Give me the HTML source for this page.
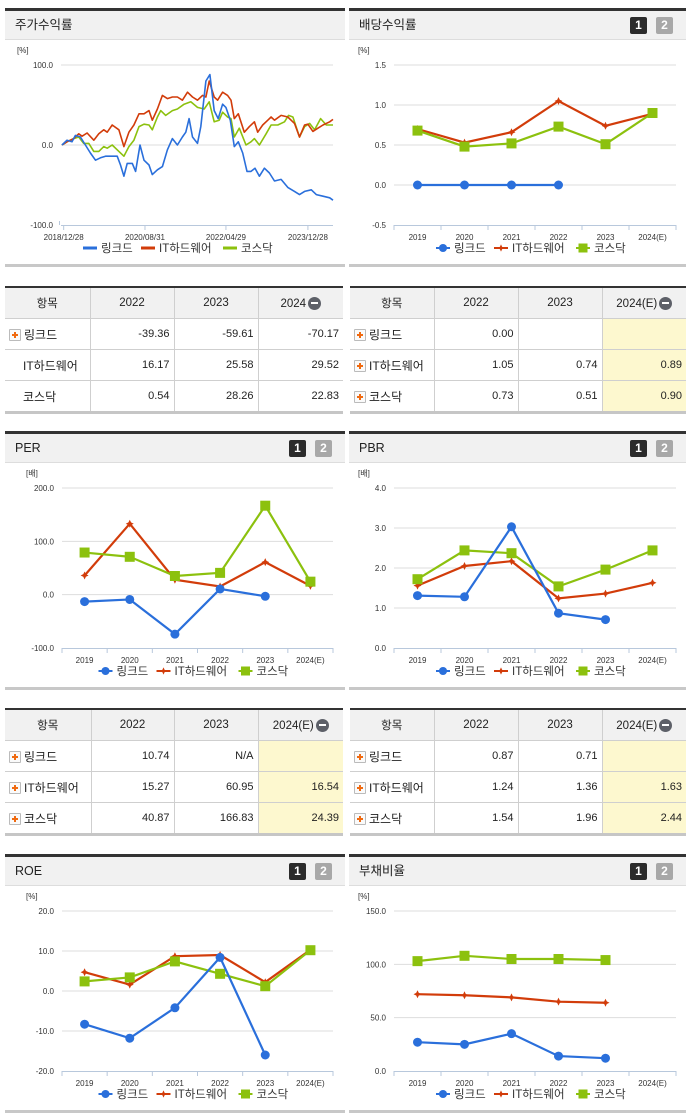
<!DOCTYPE html>
<html><head><meta charset="utf-8">
<style>
body{margin:0;width:691px;height:1115px;background:#fff;position:relative;overflow:hidden;font-family:"Liberation Sans","Noto Sans CJK KR",sans-serif;}
.abs{position:absolute;}
.hdr{position:absolute;height:28px;background:#f1f1f1;border-top:3px solid #333;border-bottom:1px solid #ddd;font-size:12.5px;color:#222;line-height:28px;padding-left:10px;box-sizing:content-box;}
.btn{position:absolute;top:6px;width:17px;height:17px;font:bold 12px/17px "Liberation Sans",sans-serif;color:#fff;text-align:center;border-radius:2px;}
.b1{background:#2b2b2b;right:39px}.b2{background:#a8a8a8;right:13px}
.foot{position:absolute;height:3px;background:#c8c8c8;}
table{position:absolute;border-collapse:collapse;font-size:11px;color:#222;border-top:2px solid #333;border-bottom:3px solid #c6c6c6;table-layout:fixed;}
td,th{border:1px solid #cfcfcf;height:30px;padding:0 4px;}
td:first-child,th:first-child{border-left:none}
td:last-child,th:last-child{border-right:none}
th{background:#f1f1f1;font-weight:normal;text-align:center;font-size:11.5px;}
td{text-align:right;}
td.n{text-align:left;padding-left:4px;font-size:12px;}
.y{background:#fdf8cf;}
.pl{display:inline-block;width:10px;height:10px;border:1px solid #bbb;background:#fafafa;vertical-align:-2px;margin-right:3px;position:relative;border-radius:1px;}
.pl:before{content:"";position:absolute;left:2px;top:4.5px;width:6px;height:2px;background:#f06a10;}
.pl:after{content:"";position:absolute;left:4px;top:2.5px;width:2px;height:6px;background:#f06a10;}
.mi{display:inline-block;width:13px;height:13px;border-radius:7px;background:#5d6068;vertical-align:-3px;margin-left:2px;position:relative;}
.mi:after{content:"";position:absolute;left:3px;top:5.5px;width:7px;height:2px;background:#fff;}
svg text{font-family:"Liberation Sans","Noto Sans CJK KR",sans-serif;}
</style></head><body>

<div class="hdr" style="left:5px;top:8px;width:330px;">주가수익률</div>
<div class="hdr" style="left:349px;top:8px;width:327px;">배당수익률<div class="btn b1">1</div><div class="btn b2">2</div></div>
<div class="hdr" style="left:5px;top:431px;width:330px;">PER<div class="btn b1">1</div><div class="btn b2">2</div></div>
<div class="hdr" style="left:349px;top:431px;width:327px;">PBR<div class="btn b1">1</div><div class="btn b2">2</div></div>
<div class="hdr" style="left:5px;top:854px;width:330px;">ROE<div class="btn b1">1</div><div class="btn b2">2</div></div>
<div class="hdr" style="left:349px;top:854px;width:327px;">부채비율<div class="btn b1">1</div><div class="btn b2">2</div></div>

<div class="foot" style="left:5px;top:264px;width:340px"></div>
<div class="foot" style="left:349px;top:264px;width:337px"></div>
<div class="foot" style="left:5px;top:687px;width:340px"></div>
<div class="foot" style="left:349px;top:687px;width:337px"></div>
<div class="foot" style="left:5px;top:1110px;width:340px"></div>
<div class="foot" style="left:349px;top:1110px;width:337px"></div>

<svg id="chart" class="abs" style="left:0;top:0" width="691" height="1115"></svg>

<table style="left:5px;top:286px;width:338px">
<colgroup><col style="width:85px"><col style="width:84px"><col style="width:84px"><col style="width:85px"></colgroup>
<tr><th>항목</th><th>2022</th><th>2023</th><th>2024<span class="mi"></span></th></tr>
<tr><td class="n"><span class="pl"></span>링크드</td><td>-39.36</td><td>-59.61</td><td>-70.17</td></tr>
<tr><td class="n" style="padding-left:18px">IT하드웨어</td><td>16.17</td><td>25.58</td><td>29.52</td></tr>
<tr><td class="n" style="padding-left:18px">코스닥</td><td>0.54</td><td>28.26</td><td>22.83</td></tr>
</table>
<table style="left:350px;top:286px;width:336px">
<colgroup><col style="width:84px"><col style="width:84px"><col style="width:84px"><col style="width:84px"></colgroup>
<tr><th>항목</th><th>2022</th><th>2023</th><th>2024(E)<span class="mi"></span></th></tr>
<tr><td class="n"><span class="pl"></span>링크드</td><td>0.00</td><td></td><td class="y"></td></tr>
<tr><td class="n"><span class="pl"></span>IT하드웨어</td><td>1.05</td><td>0.74</td><td class="y">0.89</td></tr>
<tr><td class="n"><span class="pl"></span>코스닥</td><td>0.73</td><td>0.51</td><td class="y">0.90</td></tr>
</table>
<table style="left:5px;top:708px;width:338px">
<colgroup><col style="width:86px"><col style="width:83px"><col style="width:84px"><col style="width:85px"></colgroup>
<tr><th>항목</th><th>2022</th><th>2023</th><th>2024(E)<span class="mi"></span></th></tr>
<tr><td class="n"><span class="pl"></span>링크드</td><td>10.74</td><td>N/A</td><td class="y"></td></tr>
<tr><td class="n"><span class="pl"></span>IT하드웨어</td><td>15.27</td><td>60.95</td><td class="y">16.54</td></tr>
<tr><td class="n"><span class="pl"></span>코스닥</td><td>40.87</td><td>166.83</td><td class="y">24.39</td></tr>
</table>
<table style="left:350px;top:708px;width:336px">
<colgroup><col style="width:84px"><col style="width:84px"><col style="width:84px"><col style="width:84px"></colgroup>
<tr><th>항목</th><th>2022</th><th>2023</th><th>2024(E)<span class="mi"></span></th></tr>
<tr><td class="n"><span class="pl"></span>링크드</td><td>0.87</td><td>0.71</td><td class="y"></td></tr>
<tr><td class="n"><span class="pl"></span>IT하드웨어</td><td>1.24</td><td>1.36</td><td class="y">1.63</td></tr>
<tr><td class="n"><span class="pl"></span>코스닥</td><td>1.54</td><td>1.96</td><td class="y">2.44</td></tr>
</table>

<script>
const retBlueT=[0,15,30,40,55,70,85,100,115,130,155,165,175,185,195,210,220,233,245,260,270,285,300,315,330,345,360,370,380,390,405,415,430,442,455,467,480,490,503,515,527,540,553,565,577,590,605,620,635,655,675,695,710,725,745,760,780,800,810];
const retBlue=[0,6,4,12,10,0,-10,-19,-16,-14,-14,-14,-25,-39,-23,-23,-33,0,-19,-25,-37,-31,-27,-6,8,0,10,16,33,10,2,23,80,88,43,33,51,47,31,-2,4,-10,-33,-33,-29,-39,-29,-35,-45,-43,-53,-58,-62,-58,-56,-62,-64,-66,-69];
const retRedT=[0,15,35,50,60,75,95,110,125,135,150,170,185,200,215,230,245,260,270,285,300,315,330,345,360,375,390,405,420,430,440,455,465,480,495,505,515,527,545,560,575,585,600,615,625,635,655,675,695,710,725,735,750,765,780,800,810];
const retRed=[0,4,8,14,11,15,6,14,19,16,25,19,-2,16,25,39,39,43,31,45,62,58,60,60,56,66,60,56,62,60,80,60,56,66,62,56,33,39,16,23,29,16,25,31,35,31,37,35,27,10,25,26,17,21,25,29,32];
const retGreenT=[0,15,35,50,65,80,95,110,125,135,150,170,185,200,215,230,245,260,270,285,295,310,330,345,365,385,405,425,440,455,470,480,495,505,515,530,550,565,575,590,610,625,645,665,677,690,710,725,740,755,773,790,810];
const retGreen=[0,4,8,10,2,2,-8,-8,-2,-4,0,-8,-14,-2,6,23,26,25,19,35,43,37,43,45,51,54,47,45,54,29,31,41,35,33,10,21,0,4,8,0,14,25,25,29,37,35,10,23,27,19,33,25,25];
const retTicks=[100,0,-100];
const retXLabels=['2018/12/28','2020/08/31','2022/04/29','2023/12/28'];
const retXLabelT=[5,248,490,735];

const years=['2019','2020','2021','2022','2023','2024(E)'];
const divLinked=[0,0,0,0,null,null];
const divIT=[0.70,0.53,0.66,1.05,0.74,0.89];
const divKosdaq=[0.68,0.48,0.52,0.73,0.51,0.90];
const divTicks=[1.5,1.0,0.5,0.0,-0.5];
const perLinked=[-13,-9,-74,10.74,-3,null];
const perIT=[36,133,28,15.27,60.95,16.54];
const perKosdaq=[79,71,35,40.87,166.83,24.39];
const perTicks=[200,100,0,-100];
const pbrLinked=[1.31,1.28,3.03,0.87,0.71,null];
const pbrIT=[1.56,2.05,2.17,1.24,1.36,1.63];
const pbrKosdaq=[1.72,2.44,2.37,1.54,1.96,2.44];
const pbrTicks=[4,3,2,1,0];
const roeLinked=[-8.3,-11.8,-4.2,8.4,-16,null];
const roeIT=[4.7,1.6,8.7,9.0,2.2,10.3];
const roeKosdaq=[2.4,3.4,7.4,4.3,1.2,10.2];
const roeTicks=[20,10,0,-10,-20];
const debtLinked=[27,25,35,14,12,null];
const debtIT=[72,71,69,65,64,null];
const debtKosdaq=[103,108,105,105,104,null];
const debtTicks=[150,100,50,0];

const C={blue:'#2a6fdb',red:'#d23c0a',green:'#8cc10e'};
const svg=document.getElementById('chart');
const NS='http://www.w3.org/2000/svg';
function mk(tag,attrs,parent){const e=document.createElementNS(NS,tag);for(const k in attrs)e.setAttribute(k,attrs[k]);(parent||svg).appendChild(e);return e;}
function txt(x,y,s,size,anchor,fill,parent){const t=mk('text',{x:x,y:y,'font-size':size,'text-anchor':anchor||'start',fill:fill||'#333'},parent);t.textContent=s;return t;}
function yScaleOf(ticks,top,bottom){const max=ticks[0],min=ticks[ticks.length-1];return v=>top+(max-v)/(max-min)*(bottom-top);}

function legend(cx,y,markers,parent){
  const names=['링크드','IT하드웨어','코스닥'],cols=[C.blue,C.red,C.green];
  const widths=[58,82,58];let x=cx-99;
  for(let i=0;i<3;i++){
    const g=mk('g',{},parent);
    
    
    mk('line',{x1:x,y1:y-4,x2:x+14,y2:y-4,stroke:cols[i],'stroke-width':markers?2:3},g);
    if(markers){drawMarker(g,i,x+7,y-4,0.9);}
    txt(x+18,y,names[i],11.5,'start','#333',g);
    x+=widths[i];
  }
}
function drawMarker(g,i,x,y,s){
  if(i===0)mk('circle',{cx:x,cy:y,r:4.5*s,fill:C.blue},g);
  else if(i===1)mk('path',{d:`M${x} ${y-4*s}L${x+1.3*s} ${y-1.3*s}L${x+4*s} ${y}L${x+1.3*s} ${y+1.3*s}L${x} ${y+4*s}L${x-1.3*s} ${y+1.3*s}L${x-4*s} ${y}L${x-1.3*s} ${y-1.3*s}Z`,fill:C.red},g);
  else mk('rect',{x:x-5*s,y:y-5*s,width:10*s,height:10*s,fill:C.green},g);
}

function annualChart(name,left,right,top,bottom,ticks,unit,series,fmt){
  const g=mk('g',{});
  
  
  const ys=yScaleOf(ticks,top,bottom);
  const bw=(right-left)/years.length;
  const xs=i=>left+bw*(i+0.5);
  txt(left-36,top-12,unit,8,'start','#333',g);
  ticks.forEach(t=>{
    if(t!==ticks[ticks.length-1])mk('line',{x1:left,y1:ys(t),x2:right,y2:ys(t),stroke:'#ddd','stroke-width':1},g);
    txt(left-8,ys(t)+3,fmt(t),8,'end','#333',g);
  });
  mk('line',{x1:left,y1:bottom+0.5,x2:right,y2:bottom+0.5,stroke:'#b8c8dc','stroke-width':1},g);
  for(let i=0;i<=years.length;i++)mk('line',{x1:left+bw*i,y1:bottom,x2:left+bw*i,y2:bottom+5,stroke:'#b8c8dc'},g);
  years.forEach((y,i)=>txt(xs(i),bottom+15,y,8,'middle','#333',g));
  const cols=[C.blue,C.red,C.green];
  [1,2,0].forEach(si=>{
    const data=series[si];
    let d='';let pen=false;
    data.forEach((v,i)=>{if(v===null){pen=false;return;}d+=(pen?'L':'M')+xs(i)+' '+ys(v);pen=true;});
    const p=mk('path',{d:d,fill:'none',stroke:cols[si],'stroke-width':2.2},g);
    
    
    data.forEach((v,i)=>{if(v===null)return;drawMarker(g,si,xs(i),ys(v),1);});
  });
  legend((left+right)/2,bottom+27,true,g);
}

(function(){
  const g=mk('g',{});
  
  
  const left=61,right=333,top=65,bottom=225,tMax=810;
  const ys=yScaleOf(retTicks,top,bottom);
  const xs=t=>left+1+t/tMax*(right-left-1);
  txt(17,53,'[%]',8,'start','#333',g);
  retTicks.forEach(t=>{
    if(t!==-100)mk('line',{x1:left,y1:ys(t),x2:right,y2:ys(t),stroke:'#ddd'},g);
    txt(53,ys(t)+3,t.toFixed(1),8,'end','#333',g);
  });
  mk('line',{x1:left-1.5,y1:bottom-4,x2:left-1.5,y2:bottom,stroke:'#b8c8dc'},g);
  mk('line',{x1:left,y1:bottom+0.5,x2:right,y2:bottom+0.5,stroke:'#b8c8dc'},g);
  retXLabels.forEach((l,i)=>{const x=xs(retXLabelT[i]);mk('line',{x1:x,y1:bottom,x2:x,y2:bottom+5,stroke:'#b8c8dc'},g);txt(x,bottom+15,l,8,'middle','#333',g);});
  [[retGreenT,retGreen,C.green,'kosdaq'],[retRedT,retRed,C.red,'it-hardware'],[retBlueT,retBlue,C.blue,'linked']].forEach(s=>{
    const d=s[1].map((v,i)=>(i?'L':'M')+xs(s[0][i]).toFixed(1)+' '+ys(v).toFixed(1)).join('');
    const p=mk('path',{d:d,fill:'none',stroke:s[2],'stroke-width':1.6,'stroke-linejoin':'round'},g);
    
    
  });
  legend(182,252,false,g);
})();

annualChart('dividend-yield-chart',394,676,65,225,divTicks,'[%]',[divLinked,divIT,divKosdaq],t=>t.toFixed(1));
annualChart('per-chart',62,333,488,648,perTicks,'[배]',[perLinked,perIT,perKosdaq],t=>t.toFixed(1));
annualChart('pbr-chart',394,676,488,648,pbrTicks,'[배]',[pbrLinked,pbrIT,pbrKosdaq],t=>t.toFixed(1));
annualChart('roe-chart',62,333,911,1071,roeTicks,'[%]',[roeLinked,roeIT,roeKosdaq],t=>t.toFixed(1));
annualChart('debt-ratio-chart',394,676,911,1071,debtTicks,'[%]',[debtLinked,debtIT,debtKosdaq],t=>t.toFixed(1));
</script>
</body></html>
